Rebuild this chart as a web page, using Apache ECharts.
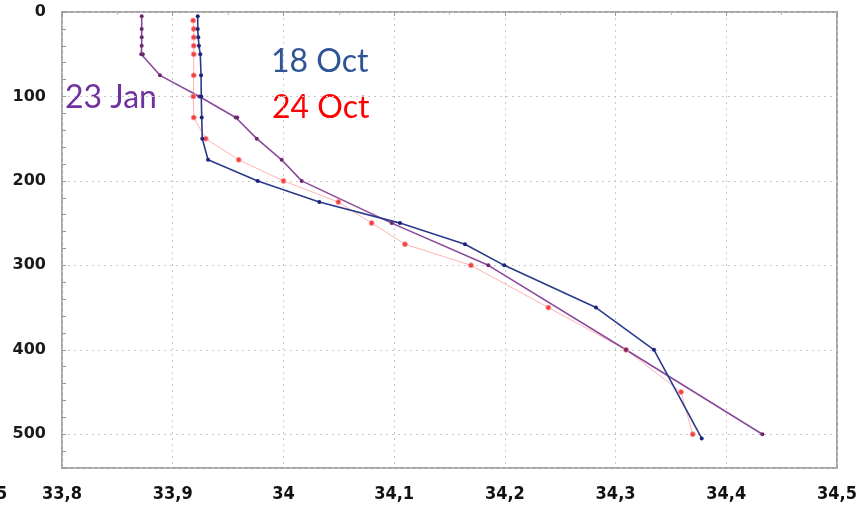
<!DOCTYPE html>
<html>
<head>
<meta charset="utf-8">
<script src="https://cdn.jsdelivr.net/npm/echarts@6/dist/echarts.min.js"></script>
<style>html,body{margin:0;padding:0;background:#fff}#c{width:862px;height:509px}</style>
</head>
<body>
<div id="c"></div>
<script>
// Salinity profiles (x = salinity, y = depth in m)
const depth18Oct = [5, 20, 30, 40, 50, 75, 100, 125, 150, 175, 200, 225, 250, 275, 300, 350, 400, 505];
const sal18Oct = [33.9226, 33.9226, 33.9231, 33.9237, 33.9249, 33.9256, 33.9258, 33.9262, 33.9267, 33.9319, 33.9768, 34.0324, 34.1053, 34.164, 34.1995, 34.2823, 34.3347, 34.3778];

const depth24Oct = [10, 20, 30, 40, 50, 75, 100, 125, 150, 175, 200, 225, 250, 275, 300, 350, 400, 450, 500];
const sal24Oct = [33.9185, 33.919, 33.919, 33.919, 33.919, 33.919, 33.9186, 33.919, 33.9298, 33.9596, 34.0, 34.0496, 34.0797, 34.1098, 34.1694, 34.2393, 34.3094, 34.3591, 34.3697];

const depth23Jan = [5, 20, 30, 40, 50, 50, 75, 100, 125, 125, 150, 175, 200, 250, 300, 400, 500];
const sal23Jan = [33.872, 33.872, 33.872, 33.872, 33.8716, 33.873, 33.8885, 33.924, 33.9569, 33.9583, 33.9759, 33.9984, 34.0165, 34.0978, 34.1851, 34.3094, 34.4326];

const seriesNames = ['18 Oct', '24 Oct', '23 Jan'];
const xTicks = [33.8, 33.9, 34, 34.1, 34.2, 34.3, 34.4, 34.5];
const yTicks = [0, 100, 200, 300, 400, 500];

const pair = (xs, ys) => xs.map((v, i) => [v, ys[i]]);
const fmtX = v => String(+(+v).toFixed(1)).replace('.', ',');

const chart = echarts.init(document.getElementById('c'), null, {renderer: 'canvas'});
const frameColor = '#a6a6a6';
const gridDot = {show: true, lineStyle: {color: '#c8c8c8', type: [2, 4], width: 1}};

chart.setOption({
  animation: false,
  backgroundColor: '#fff',
  grid: {left: 62, top: 12, right: 25, bottom: 41, containLabel: false,
         show: true, borderColor: frameColor, borderWidth: 2, backgroundColor: 'transparent'},
  xAxis: [
    {type: 'value', min: xTicks[0], max: xTicks[xTicks.length - 1], interval: 0.1, position: 'bottom',
     axisLine: {show: false}, axisTick: {show: false}, splitLine: gridDot,
     axisLabel: {margin: 17, formatter: fmtX, color: '#111', fontFamily: 'DejaVu Sans Condensed, DejaVu Sans',
                 fontWeight: 'bold', fontSize: 18, showMinLabel: true, showMaxLabel: true}},
    {type: 'value', min: 33.8, max: 34.5, interval: 0.1, position: 'top',
     axisLine: {show: false}, splitLine: {show: false}, axisLabel: {show: false},
     axisTick: {show: true, inside: true, length: 4, lineStyle: {color: '#999'}},
     minorTick: {show: true, splitNumber: 2, length: 3, lineStyle: {color: '#bbb'}}}
  ],
  yAxis: [
    {type: 'value', inverse: true, min: 0, max: 540, interval: 100,
     axisLine: {show: false}, axisTick: {show: false}, splitLine: gridDot,
     axisLabel: {margin: 16, color: '#1a1a1a', fontFamily: 'DejaVu Sans', fontWeight: 'bold', fontSize: 16,
                 showMaxLabel: false,
                 formatter: v => (yTicks.indexOf(v) >= 0 ? String(v) : '')}},
    {type: 'value', inverse: true, min: 0, max: 540, interval: 20, position: 'left',
     axisLine: {show: false}, splitLine: {show: false}, axisLabel: {show: false},
     axisTick: {show: true, inside: true, length: 4, lineStyle: {color: '#999'}}}
  ],
  graphic: [
    {type: 'text', left: 271, top: 46, style: {text: '18 Oct', fill: '#2f5597', font: '32px Lato'}},
    {type: 'text', left: 272, top: 92, style: {text: '24 Oct', fill: '#ff0000', font: '32px Lato'}},
    {type: 'text', left: 65, top: 82, style: {text: '23 Jan', fill: '#7030a0', font: '32px Lato'}},
    {type: 'text', left: -4, top: 485, style: {text: '5', fill: '#111', font: 'bold 18px "DejaVu Sans Condensed"'}}
  ],
  series: [
    {name: seriesNames[1], type: 'line', xAxisIndex: 0, yAxisIndex: 0, data: pair(sal24Oct, depth24Oct),
     symbol: 'circle', symbolSize: 5, lineStyle: {color: '#ffb3b3', width: 1},
     itemStyle: {color: '#ee4040', borderColor: '#ff9a9a', borderWidth: 1}},
    {name: seriesNames[2], type: 'line', xAxisIndex: 0, yAxisIndex: 0, data: pair(sal23Jan, depth23Jan),
     symbol: 'circle', symbolSize: 4, lineStyle: {color: '#8b4a9c', width: 1.6},
     itemStyle: {color: '#6b2a70'}},
    {name: seriesNames[0], type: 'line', xAxisIndex: 0, yAxisIndex: 0, data: pair(sal18Oct, depth18Oct),
     symbol: 'circle', symbolSize: 4, lineStyle: {color: '#2b3a8c', width: 1.6},
     itemStyle: {color: '#1a237e'}}
  ]
});
</script>
</body>
</html>
